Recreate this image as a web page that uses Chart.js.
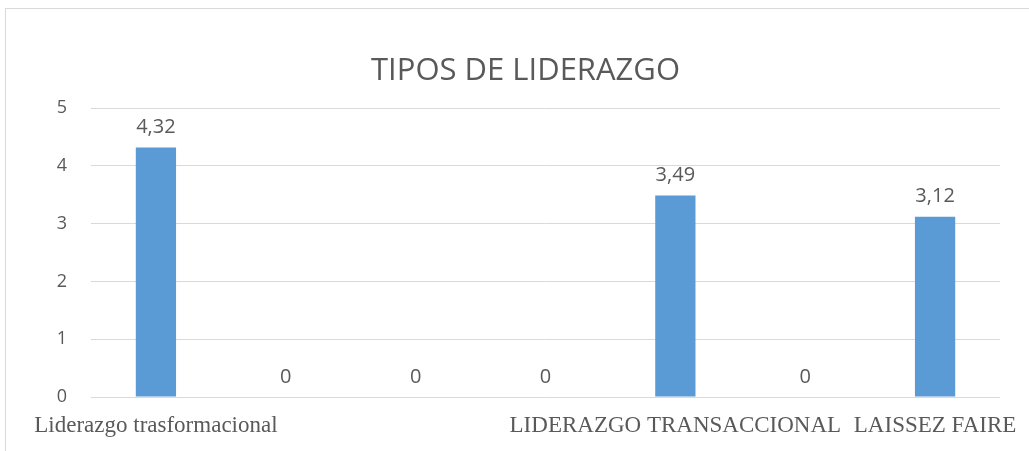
<!DOCTYPE html>
<html>
<head>
<meta charset="utf-8">
<script src="https://cdn.jsdelivr.net/npm/chart.js@4/dist/chart.umd.min.js"></script>
<style>
  body { margin: 0; background: #fff; overflow: hidden; }
  #wrap { position: relative; width: 1029px; height: 451px; }
  #frame { position: absolute; left: 5px; top: 8px; width: 1200px; height: 600px; border: 1px solid #d9d9d9; }
  #chart { position: absolute; left: 0; top: 0; }
</style>
</head>
<body>
<div id="wrap">
  <div id="frame"></div>
  <canvas id="chart" width="1029" height="451"></canvas>
</div>
<script>
// Chart data
const categories = ['Liderazgo trasformacional', '', '', '', 'LIDERAZGO TRANSACCIONAL', '', 'LAISSEZ FAIRE'];
const values = [4.32, 0, 0, 0, 3.49, 0, 3.12];
const yTicks = [0, 1, 2, 3, 4, 5];

const textColor = '#595959';
const gridColor = '#d9d9d9';

// Draw value labels above each bar, with comma decimals
const valueLabels = {
    id: 'valueLabels',
    afterDatasetsDraw(chart) {
        const ctx = chart.ctx;
        const meta = chart.getDatasetMeta(0);
        ctx.save();
        ctx.fillStyle = textColor;
        ctx.font = '20px "Open Sans"';
        ctx.textAlign = 'center';
        ctx.textBaseline = 'middle';
        meta.data.forEach((bar, i) => {
            const label = String(values[i]).replace('.', ',');
            ctx.fillText(label, bar.x, bar.y - 20);
        });
        ctx.restore();
    }
};

new Chart(document.getElementById('chart'), {
    type: 'bar',
    data: {
        labels: categories,
        datasets: [{
            data: values,
            backgroundColor: '#5b9bd5',
            barPercentage: 0.62,
            categoryPercentage: 0.5
        }]
    },
    options: {
        responsive: false,
        animation: false,
        layout: { padding: { left: 22, right: 0, top: 0, bottom: 0 } },
        plugins: {
            legend: { display: false },
            tooltip: { enabled: false },
            title: {
                display: true,
                text: 'TIPOS DE LIDERAZGO',
                color: textColor,
                font: { family: '"Open Sans"', size: 31, weight: 'normal' },
                padding: { top: 53, bottom: 18 }
            }
        },
        scales: {
            x: {
                grid: { display: false, drawTicks: false },
                border: { display: false },
                ticks: {
                    autoSkip: false,
                    maxRotation: 0,
                    minRotation: 0,
                    padding: 15,
                    color: textColor,
                    font: { family: '"Liberation Serif"', size: 23 }
                },
                afterFit: (s) => { s.height = 54; s.paddingLeft = 0; s.paddingRight = 29; }
            },
            y: {
                min: 0,
                max: 5,
                afterBuildTicks: (s) => { s.ticks = yTicks.map(v => ({ value: v })); },
                grid: { color: gridColor, lineWidth: 1, drawTicks: false },
                border: { display: false },
                ticks: {
                    padding: 24,
                    color: textColor,
                    font: { family: '"Open Sans"', size: 18 }
                },
                afterFit: (s) => { s.width = 69; s.paddingTop = 0; s.paddingBottom = 0; }
            }
        }
    },
    plugins: [valueLabels]
});
</script>
</body>
</html>
